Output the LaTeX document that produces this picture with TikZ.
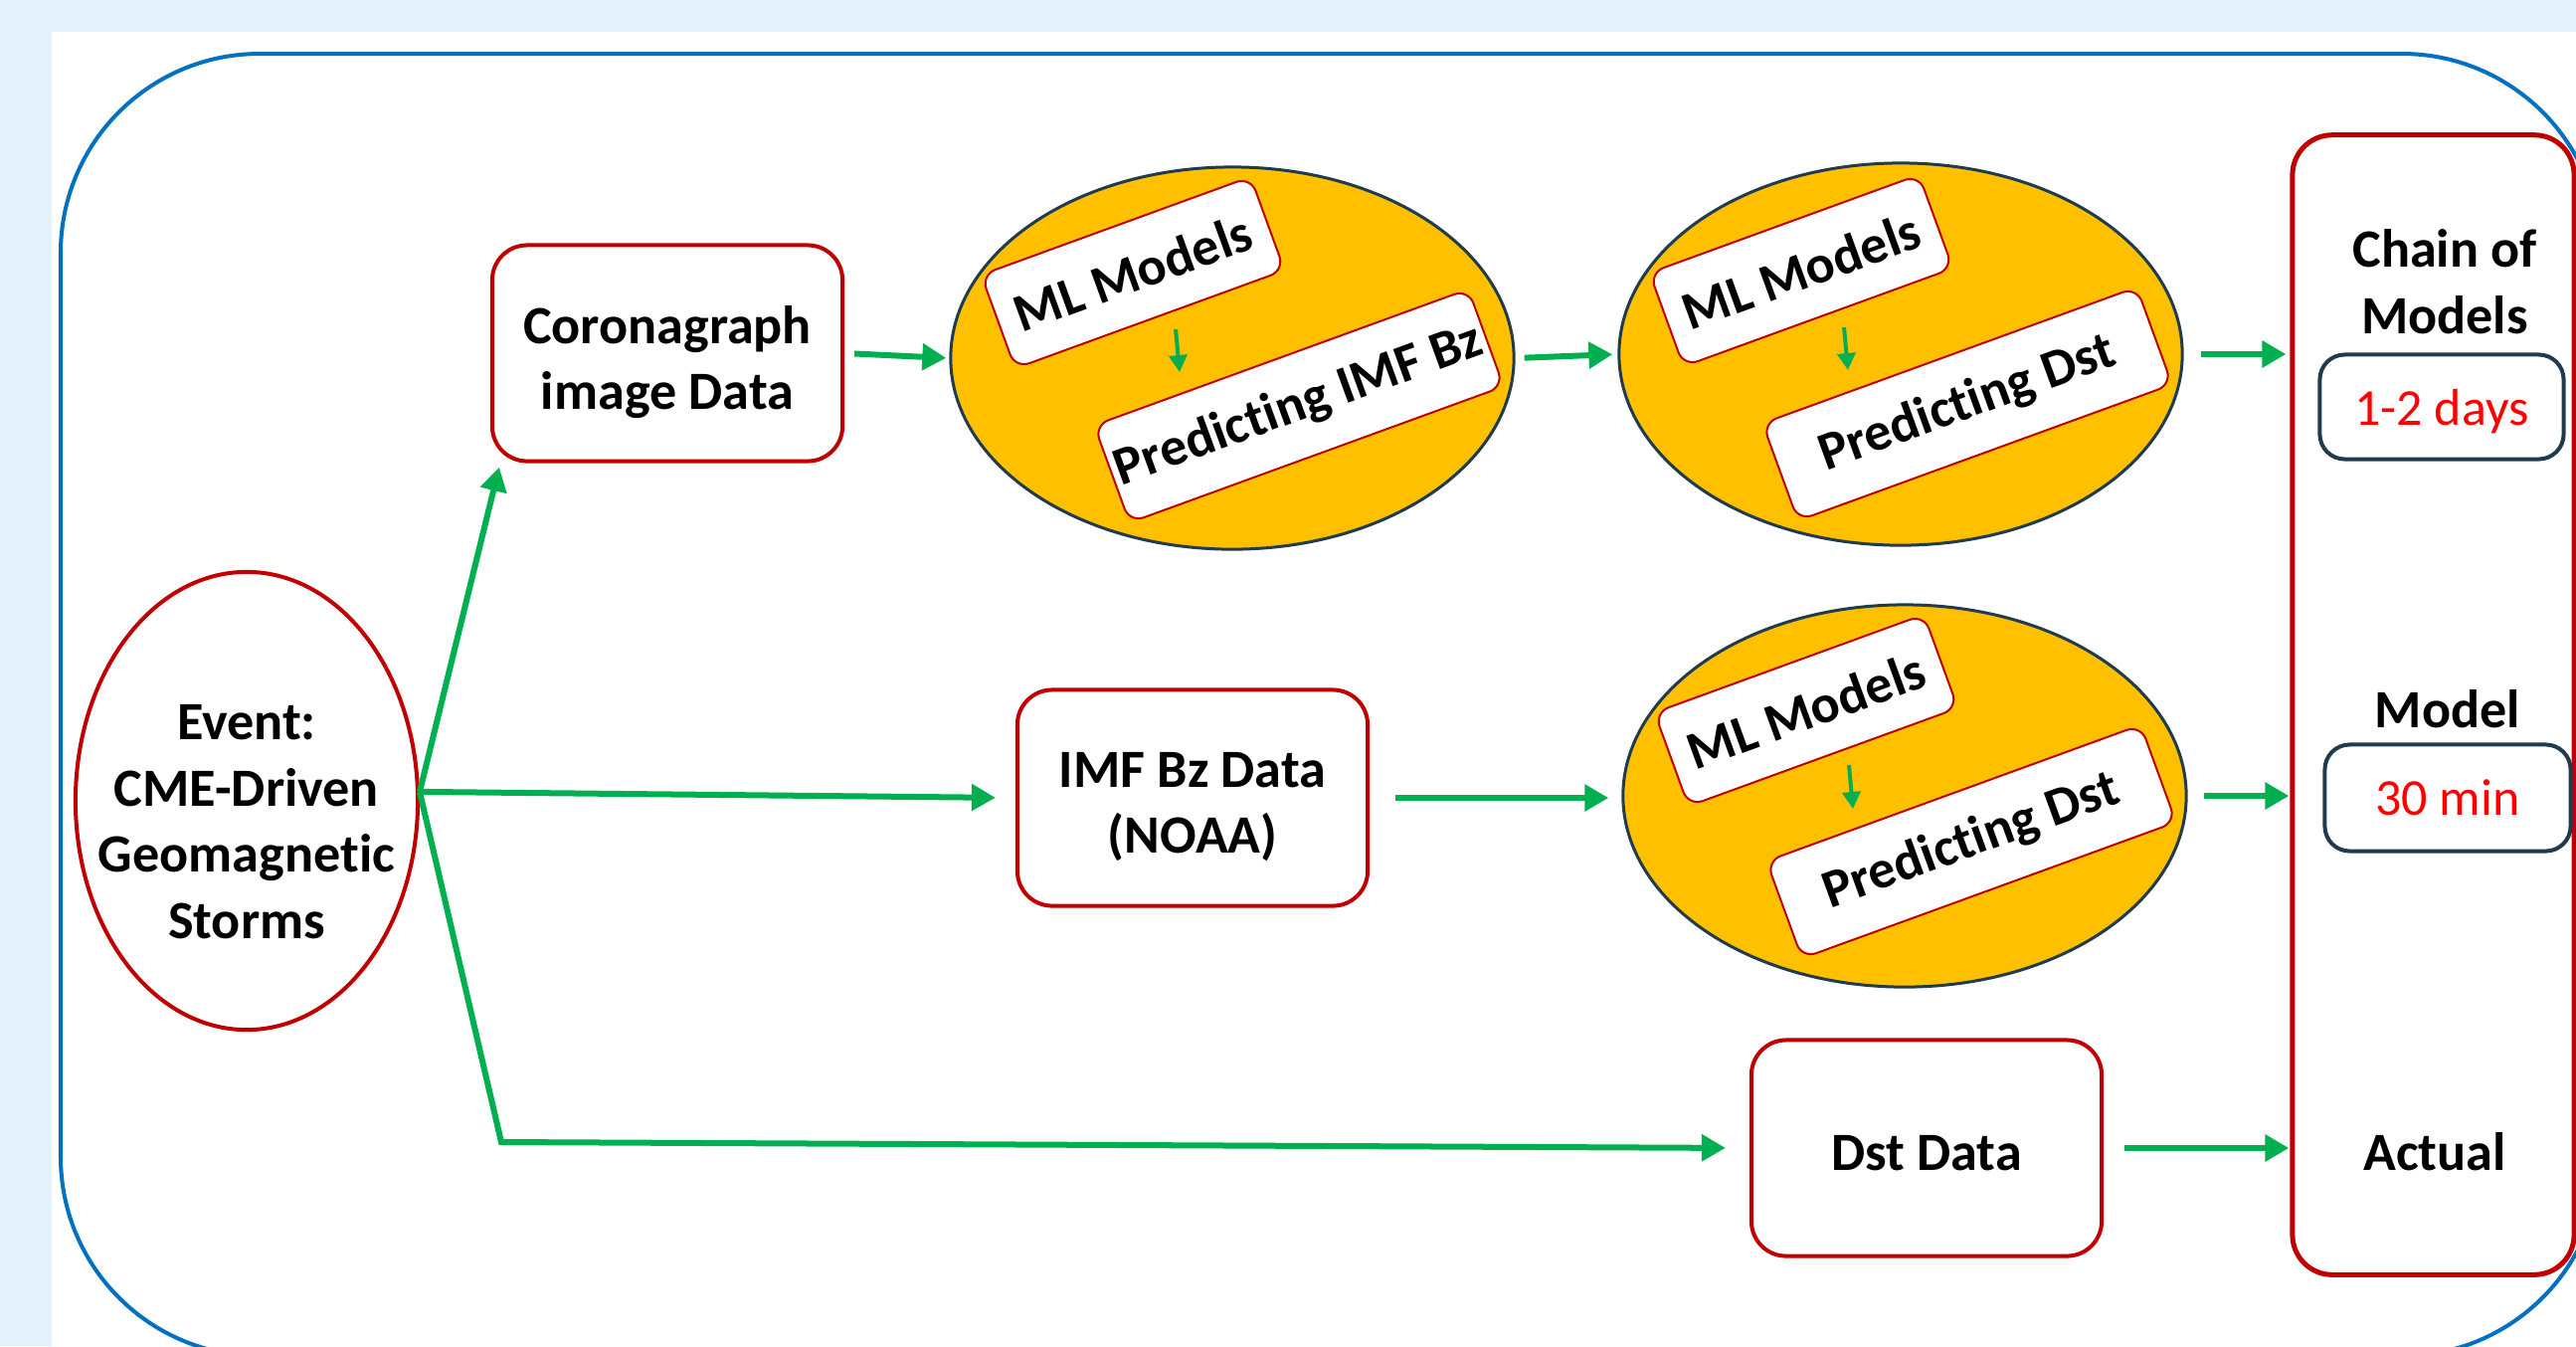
\documentclass[tikz,border=0pt]{standalone}
\usepackage{fontspec}
\setmainfont[Ligatures={NoCommon}]{Carlito}
\usetikzlibrary{shapes.geometric,arrows.meta,calc}
\definecolor{bgblue}{HTML}{E2F1FB}
\definecolor{frameblue}{HTML}{0070C0}
\definecolor{boxred}{HTML}{C00000}
\definecolor{grn}{HTML}{00B050}
\definecolor{orng}{HTML}{FFC000}
\definecolor{navy}{HTML}{1F3B4D}
\definecolor{txtred}{HTML}{FF0000}
\begin{document}
\begin{tikzpicture}[x=0.01cm,y=-0.01cm,
  lbl/.style={font=\bfseries\fontsize{15.4}{18.9}\selectfont, align=center, inner sep=0pt},
  redbox/.style={draw=boxred, line width=0.04cm, rounded corners=0.35cm, fill=white,
     minimum width=3.52cm, minimum height=2.17cm},
  evshape/.style={ellipse, draw=boxred, line width=0.04cm, minimum width=3.44cm, minimum height=4.6cm, inner sep=0pt},
  oval/.style={ellipse, draw=navy, fill=orng, line width=0.03cm, minimum width=5.66cm, minimum height=3.84cm, inner sep=0pt},
  mlbox/.style={draw=boxred, fill=white, line width=0.02cm, rounded corners=0.15cm, rotate=20,
     minimum width=2.88cm, minimum height=1.0cm, lbl},
  prbox/.style={draw=boxred, fill=white, line width=0.02cm, rounded corners=0.15cm, rotate=20,
     minimum width=4.0cm, minimum height=1.04cm, lbl},
  bigbox/.style={draw=boxred, line width=0.05cm, rounded corners=0.4cm, fill=white,
     minimum width=2.83cm, minimum height=11.45cm, inner sep=0pt},
  smallbox/.style={draw=navy, line width=0.04cm, rounded corners=0.25cm, fill=white,
     text=txtred, font=\fontsize{14.8}{17}\selectfont, inner sep=0pt, text depth=0pt},
  garrow/.style={draw=grn, line width=0.06cm, -{Triangle[length=0.24cm,width=0.26cm]}},
  ginner/.style={draw=grn, line width=0.04cm, -{Triangle[length=0.17cm,width=0.18cm]}}
]
\useasboundingbox (0,0) rectangle (2590,1353);
\clip (0,0) rectangle (2590,1353);
\fill[bgblue] (0,0) rectangle (2590,1353);
\fill[white] (52,32) rectangle (2590,1353);
\draw[frameblue, line width=0.04cm, rounded corners=2cm] (61,54) rectangle (2615,1363);

% event
\node[evshape] (ev) at (248,805) {};
\node[lbl] (evt) at (248,826) {Event:\\CME-Driven\\Geomagnetic\\Storms};

% data boxes
\node[redbox] (cor) at (671,355) {};
\node[lbl] (cort) at (671,364) {Coronagraph\\image Data};
\node[redbox] (imf) at (1199,802) {};
\node[lbl] (imft) at (1199,811) {IMF Bz Data\\(NOAA)};
\node[redbox] (dst) at (1937,1154) {};
\node[lbl] (dstt) at (1937,1159) {Dst Data};

% oval 1
\node[oval] (e1) at (1239,360) {};
\node[mlbox] (ml1) at ($(e1)+(-100,-86)$) {ML Models};
\node[prbox] (p1) at ($(e1)+(67,48)$) {Predicting IMF Bz};
\coordinate (s1) at ($(e1)+(-57,-29)$);
\coordinate (t1) at ($(e1)+(-53,14)$);
\draw[ginner] (s1) -- (t1);

% oval 2
\node[oval] (e2) at (1911,356) {};
\node[mlbox] (ml2) at ($(e2)+(-100,-84)$) {ML Models};
\node[prbox] (p2) at ($(e2)+(67,50)$) {Predicting Dst};
\coordinate (s2) at ($(e2)+(-57,-27)$);
\coordinate (t2) at ($(e2)+(-53,16)$);
\draw[ginner] (s2) -- (t2);

% oval 3
\node[oval] (e3) at (1915,800) {};
\node[mlbox] (ml3) at ($(e3)+(-99,-86)$) {ML Models};
\node[prbox] (p3) at ($(e3)+(67,46)$) {Predicting Dst};
\coordinate (s3) at ($(e3)+(-56,-31)$);
\coordinate (t3) at ($(e3)+(-52,13)$);
\draw[ginner] (s3) -- (t3);

% output box
\node[bigbox] (out) at (2446.5,708.5) {};
\node[lbl] (chain) at (2458,283) {Chain of\\Models};
\node[smallbox, minimum width=2.45cm, minimum height=1.05cm] (b12) at (2455,409) {1-2 days};
\node[lbl] (model) at (2461,713) {Model};
\node[smallbox, minimum width=2.47cm, minimum height=1.07cm] (b30) at (2461,802) {30 min};
\node[lbl] (actual) at (2448,1158) {Actual};

% connectors
\coordinate (bend) at (504,1148);
\draw[garrow] (ev.3) -- ($(cor.south west)+(9,4)$);
\draw[garrow, shorten >=0.2cm] (ev.3) -- (imf.west);
\draw[garrow, shorten >=0.24cm] (ev.3) -- (bend) -- (dst.west);
\draw[garrow, shorten <=0.1cm, shorten >=0.03cm] (cor.east) -- (e1.west);
\draw[garrow, shorten <=0.09cm, shorten >=0.05cm] (e1.east) -- (e2.west);
\draw[garrow, shorten <=0.17cm, shorten >=0.04cm] (e2.east) -- (e2.east -| out.west);
\draw[garrow, shorten <=0.26cm, shorten >=0.13cm] (imf.east) -- (imf.east -| e3.west);
\draw[garrow, shorten <=0.16cm, shorten >=0.01cm] (e3.east) -- (e3.east -| out.west);
\draw[garrow, shorten <=0.21cm, shorten >=0.01cm] (dst.east) -- (dst.east -| out.west);
\end{tikzpicture}
\end{document}
